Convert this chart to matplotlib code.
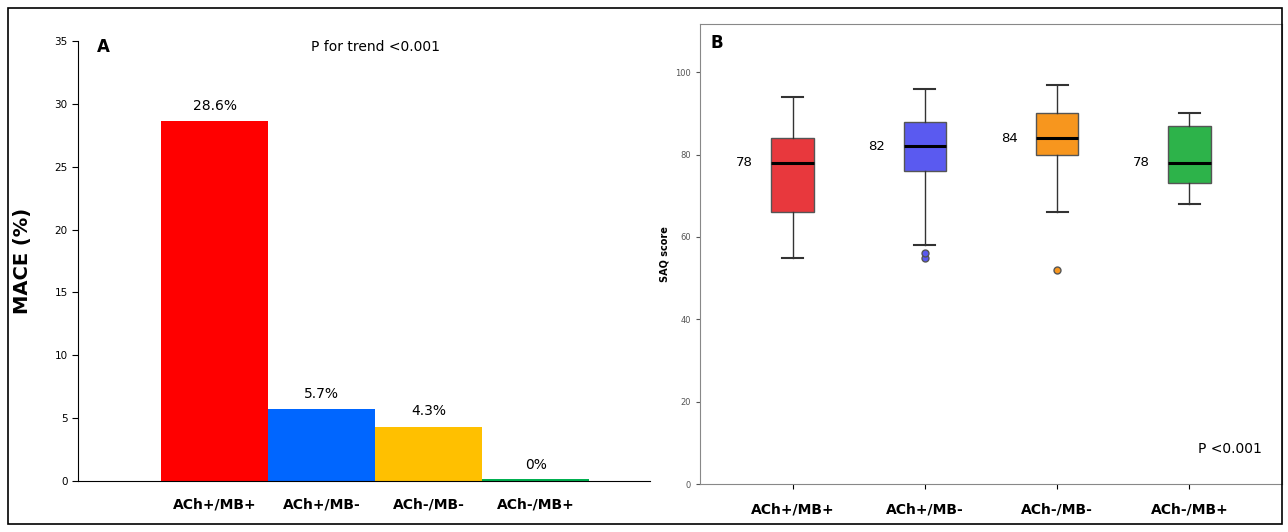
import matplotlib.pyplot as plt
from matplotlib.patches import Rectangle

groups = ['ACh+/MB+', 'ACh+/MB-', 'ACh-/MB-', 'ACh-/MB+']
mace = [28.6, 5.7, 4.3, 0.0]
bar_colors = ['#ff0000', '#0066ff', '#ffc000', '#00b050']
box_colors = ['#e8383d', '#5a5af0', '#f7961e', '#2db34a']

# whisker low, q1, median, q3, whisker high
saq_stats = [
    (55, 66, 78, 84, 94),
    (58, 76, 82, 88, 96),
    (66, 80, 84, 90, 97),
    (68, 73, 78, 87, 90),
]
saq_fliers = [[], [55, 56], [52], []]

fig = plt.figure(figsize=(12.88, 5.32), dpi=100)
fig.patches.append(Rectangle((0.006, 0.015), 0.989, 0.97, transform=fig.transFigure,
                             fill=False, edgecolor='black', lw=1.2))

# ---- panel A ----
ax1 = fig.add_axes([78 / 1288, 51 / 532, 572 / 1288, 440 / 532])
x = range(len(groups))
heights = [max(v, 0.15) for v in mace]
ax1.bar(x, heights, width=1.0, color=bar_colors)
for i, v in enumerate(mace):
    ax1.text(i, v + 0.7, f'{v:g}%', ha='center', va='bottom', fontsize=10)
ax1.set_xlim(-1.28, 4.07)
ax1.set_ylim(0, 35)
ax1.set_yticks(range(0, 36, 5))
ax1.tick_params(axis='y', labelsize=7.5, length=4)
ax1.set_xticks(list(x))
ax1.set_xticklabels(groups, fontsize=10, fontweight='bold')
ax1.tick_params(axis='x', length=0, pad=12)
ax1.spines[['top', 'right']].set_visible(False)
ax1.set_ylabel('MACE (%)', fontsize=14, fontweight='bold', labelpad=16)
ax1.text(-1.1, 34.5, 'A', fontsize=12, fontweight='bold', va='center')
ax1.text(1.5, 34.5, 'P for trend <0.001', fontsize=10, ha='center', va='center')

# ---- panel B ----
ax2 = fig.add_axes([700 / 1288, 48 / 532, 582 / 1288, 460 / 532])
stats = []
for (lo, q1, med, q3, hi), fl in zip(saq_stats, saq_fliers):
    stats.append(dict(whislo=lo, q1=q1, med=med, q3=q3, whishi=hi, fliers=fl))
bp = ax2.bxp(stats, positions=list(x), widths=0.32, patch_artist=True,
             medianprops=dict(color='black', lw=2.2),
             whiskerprops=dict(color='#333333'), capprops=dict(color='#333333', lw=1.5),
             flierprops=dict(marker='o', markersize=5, markeredgecolor='#555555'))
for patch, c, fl in zip(bp['boxes'], box_colors, bp['fliers']):
    patch.set_facecolor(c)
    patch.set_edgecolor('#555555')
    fl.set_markerfacecolor(c)
for i, (lo, q1, med, q3, hi) in enumerate(saq_stats):
    ax2.text(i - 0.3, med, str(med), ha='right', va='center', fontsize=9.5)
ax2.set_xlim(-0.7, 3.7)
ax2.set_ylim(0, 111.7)
ax2.set_yticks(range(0, 101, 20))
ax2.tick_params(axis='y', labelsize=6, colors='#555555', length=3)
ax2.set_xticks(list(x))
ax2.set_xticklabels(groups, fontsize=10, fontweight='bold')
ax2.tick_params(axis='x', pad=10)
ax2.set_ylabel('SAQ score', fontsize=7, fontweight='bold')
for s in ax2.spines.values():
    s.set_color('#888888')
ax2.text(-0.62, 107, 'B', fontsize=12, fontweight='bold', va='center')
ax2.text(3.55, 8.5, 'P <0.001', fontsize=10, ha='right', va='center')

fig.savefig('out.png', dpi=100)
